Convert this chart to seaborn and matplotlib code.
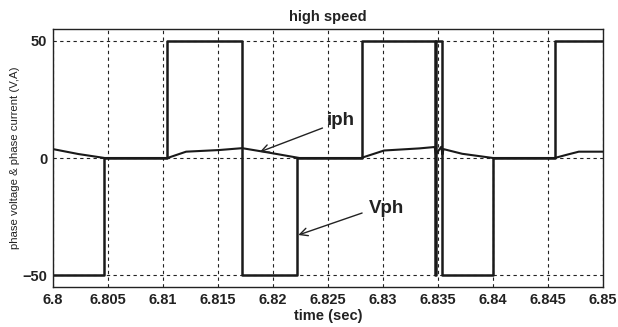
import matplotlib
matplotlib.use("Agg")
import matplotlib.pyplot as plt
import seaborn as sns
import pandas as pd

# ---- data ----
vph_time = [6.8, 6.8046, 6.8046, 6.8104, 6.8104, 6.8172, 6.8172, 6.8222, 6.8222,
            6.8281, 6.8281, 6.8347, 6.8347, 6.8348, 6.8348, 6.8354, 6.8354,
            6.8400, 6.8400, 6.8456, 6.8456, 6.85]
vph_value = [-50, -50, 0, 0, 50, 50, -50, -50, 0,
             0, 50, 50, -50, -50, 50, 50, -50,
             -50, 0, 0, 50, 50]

iph_time = [6.8, 6.8023, 6.8047, 6.8104, 6.8121, 6.8151, 6.8172, 6.8195, 6.8224,
            6.8280, 6.8301, 6.8333, 6.8347, 6.8348, 6.8353, 6.8354, 6.8355,
            6.8372, 6.8400, 6.8456, 6.8468, 6.8478, 6.85]
iph_value = [3.8, 1.7, 0, 0, 2.7, 3.4, 4.2, 2.4, 0,
             0, 3.2, 4.1, 4.7, 1.5, 4.8, 1.5, 3.8,
             1.8, 0, 0, 1.5, 2.7, 2.7]

x_ticks = [6.8, 6.805, 6.81, 6.815, 6.82, 6.825, 6.83, 6.835, 6.84, 6.845, 6.85]
x_tick_labels = ["6.8", "6.805", "6.81", "6.815", "6.82", "6.825", "6.83",
                 "6.835", "6.84", "6.845", "6.85"]
y_ticks = [-50, 0, 50]

df = pd.concat([
    pd.DataFrame({"time": vph_time, "value": vph_value, "signal": "Vph"}),
    pd.DataFrame({"time": iph_time, "value": iph_value, "signal": "iph"}),
], ignore_index=True)

sns.set_theme(style="white")
plt.rcParams["font.family"] = ["Liberation Sans", "DejaVu Sans"]

fig = plt.figure(figsize=(6.18, 3.27), dpi=100)
ax = fig.add_axes([53 / 618, 1 - 287 / 327, 550 / 618, 258 / 327])

sns.lineplot(data=df[df.signal == "Vph"], x="time", y="value", estimator=None,
             sort=False, color="#1a1a1a", linewidth=1.8, ax=ax)
sns.lineplot(data=df[df.signal == "iph"], x="time", y="value", estimator=None,
             sort=False, color="#1a1a1a", linewidth=1.5, ax=ax)

ax.set_xlim(6.8, 6.85)
ax.set_ylim(-55.1, 55.1)
ax.set_xticks(x_ticks)
ax.set_xticklabels(x_tick_labels)
ax.set_yticks(y_ticks)
ax.grid(True, color="#222222", linestyle=(0, (3, 3)), linewidth=0.8)
ax.set_axisbelow(True)
for s in ax.spines.values():
    s.set_visible(True)
    s.set_color("#222222")
    s.set_linewidth(1.0)
ax.tick_params(direction="in", length=3, width=0.8, color="#222222",
               labelsize=10.5, pad=4, labelcolor="#222222")
for lab in ax.get_xticklabels() + ax.get_yticklabels():
    lab.set_fontweight("bold")

ax.set_title("high speed", fontsize=10.5, fontweight="semibold", color="#222222", pad=6)
ax.set_xlabel("time (sec)", fontsize=10.5, fontweight="bold", color="#222222", labelpad=2)
ax.set_ylabel("phase voltage & phase current (V,A)", fontsize=8.2, color="#222222",
              labelpad=2)

ax.text(6.8262, 16.2, "iph", fontsize=13.5, fontweight="bold", ha="center",
        va="center", color="#222222")
ax.annotate("", xy=(6.8188, 2.6), xytext=(6.8245, 12.8),
            arrowprops=dict(arrowstyle="->", color="#222222", lw=1.0,
                            shrinkA=0, shrinkB=0, mutation_scale=14))
ax.text(6.8303, -21.4, "Vph", fontsize=13.5, fontweight="bold", ha="center",
        va="center", color="#222222")
ax.annotate("", xy=(6.8223, -32.9), xytext=(6.8281, -23.5),
            arrowprops=dict(arrowstyle="->", color="#222222", lw=1.0,
                            shrinkA=0, shrinkB=0, mutation_scale=14))

fig.savefig("out.png", dpi=100)
